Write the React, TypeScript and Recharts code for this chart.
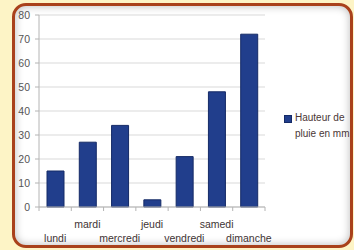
import { BarChart, Bar, XAxis, YAxis, CartesianGrid } from 'recharts';

const days = ['lundi', 'mardi', 'mercredi', 'jeudi', 'vendredi', 'samedi', 'dimanche'];
const rain = [15, 27, 34, 3, 21, 48, 72];
const yTicks = [0, 10, 20, 30, 40, 50, 60, 70, 80];
const seriesName = 'Hauteur de pluie en mm';

const data = days.map((day, i) => ({ day, rain: rain[i] }));

const W = 354;
const H = 250;
const margin = { top: 15, right: 89, bottom: 8, left: 12 };
const yAxisWidth = 27;
const xAxisHeight = 35;
const plotLeft = margin.left + yAxisWidth;
const plotRight = W - margin.right;
const plotBottom = H - margin.bottom - xAxisHeight;
const band = (plotRight - plotLeft) / days.length;

const font = '"Liberation Sans", Arial, sans-serif';
const barFill = '#213e8c';
const barStroke = '#152a66';

// LibreOffice style: tick marks on the category boundaries, labels staggered on two rows
function DayTick(props: any) {
  const { x, payload, index } = props;
  const low = index % 2 === 0;
  const last = index === days.length - 1;
  return (
    <g>
      <line x1={x - band / 2} x2={x - band / 2} y1={plotBottom} y2={plotBottom + 4} stroke="#b4b4b4" />
      {last && <line x1={x + band / 2} x2={x + band / 2} y1={plotBottom} y2={plotBottom + 4} stroke="#b4b4b4" />}
      <text
        x={x}
        y={plotBottom + (low ? 32 : 18)}
        textAnchor="middle"
        dominantBaseline="middle"
        fontSize={10.5}
        fontFamily={font}
        fill="#3e3434"
      >
        {payload.value}
      </text>
    </g>
  );
}

function RainLegend() {
  return (
    <div
      style={{
        position: 'absolute',
        left: 284,
        top: 110,
        display: 'flex',
        alignItems: 'flex-start',
        fontFamily: font,
        fontSize: 10,
        color: '#4a3636',
        lineHeight: '16px',
      }}
    >
      <span style={{ width: 6, height: 6, background: barFill, border: `1px solid ${barStroke}`, marginTop: 5, marginRight: 3, flexShrink: 0 }} />
      <span style={{ width: 58 }}>{seriesName}</span>
    </div>
  );
}

export default function App() {
  return (
    <div style={{ width: W, height: H, position: 'relative', background: '#fdf4c6', overflow: 'hidden' }}>
      <style>{'body{margin:0}'}</style>
      <div
        style={{
          position: 'absolute',
          left: 12,
          top: 3,
          width: 341,
          height: 245,
          boxSizing: 'border-box',
          border: '3px solid #a9411b',
          borderRadius: 14,
          background: '#ffffff',
          boxShadow: 'inset 0 0 8px rgba(0,0,0,0.28)',
        }}
      />
      <div style={{ position: 'absolute', left: 0, top: 0 }}>
        <BarChart width={W} height={H} data={data} margin={margin} barCategoryGap={0}>
          <CartesianGrid vertical={false} stroke="#d9d9d9" />
          <XAxis
            dataKey="day"
            height={xAxisHeight}
            tickLine={false}
            axisLine={{ stroke: '#b4b4b4' }}
            tick={<DayTick />}
            interval={0}
          />
          <YAxis
            width={yAxisWidth}
            domain={[0, 80]}
            ticks={yTicks}
            interval={0}
            tickSize={4}
            tickMargin={5}
            tickLine={{ stroke: '#b4b4b4' }}
            axisLine={{ stroke: '#b4b4b4' }}
            tick={{ fontSize: 10.5, fontFamily: font, fill: '#555555' }}
          />
          <YAxis
            yAxisId="frame"
            orientation="right"
            width={0}
            tick={false}
            tickLine={false}
            axisLine={{ stroke: '#d9d9d9' }}
          />
          <Bar
            dataKey="rain"
            name={seriesName}
            fill={barFill}
            stroke={barStroke}
            strokeWidth={1}
            barSize={17}
            isAnimationActive={false}
          />
        </BarChart>
      </div>
      <RainLegend />
    </div>
  );
}
